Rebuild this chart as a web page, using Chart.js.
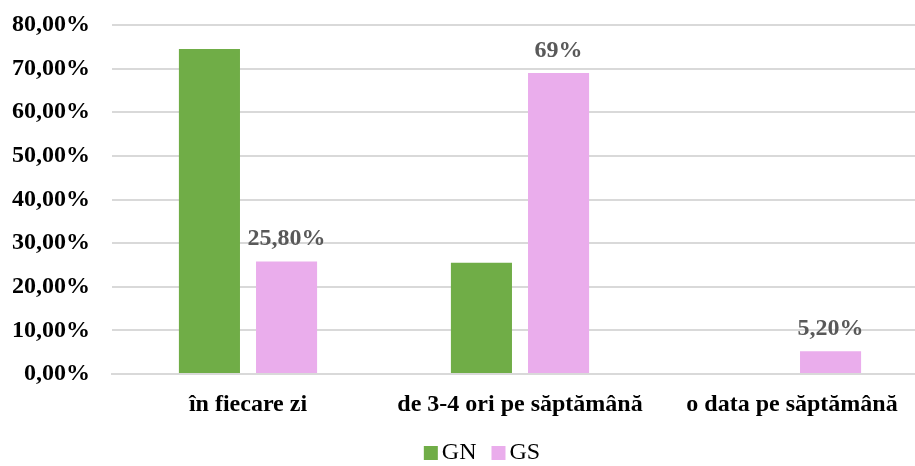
<!DOCTYPE html>
<html>
<head>
<meta charset="utf-8">
<script src="https://cdn.jsdelivr.net/npm/chart.js@4/dist/chart.umd.min.js"></script>
<style>
  html, body { margin: 0; padding: 0; background: #fff; overflow: hidden; }
  #wrap { width: 928px; height: 466px; }
</style>
</head>
<body>
<div id="wrap"><canvas id="c" width="928" height="466"></canvas></div>
<script>
// Frequency categories and the share of each group (percent)
const categories = ["în fiecare zi", "de 3-4 ori pe săptămână", "o data pe săptămână"];
const gnValues = [74.5, 25.5, 0];
const gsValues = [25.8, 69, 5.2];
const gsValueLabels = ["25,80%", "69%", "5,20%"];
const yTicks = [0, 10, 20, 30, 40, 50, 60, 70, 80];
const seriesColors = ['#70AD47', '#EAADEC'];

const SERIF = "'Liberation Serif', 'Times New Roman', serif";
const LEGEND_SWATCH = 14;

// Value labels above the GS bars
const gsLabelPlugin = {
  id: 'gsLabels',
  afterDatasetsDraw(chart) {
    const ctx = chart.ctx;
    const meta = chart.getDatasetMeta(1);
    ctx.save();
    ctx.font = "bold 24px " + SERIF;
    ctx.fillStyle = '#595959';
    ctx.textAlign = 'center';
    ctx.textBaseline = 'alphabetic';
    meta.data.forEach((bar, i) => {
      ctx.fillText(gsValueLabels[i], bar.x, bar.y - 16);
    });
    ctx.restore();
  }
};

// Move the legend a little right and down
const legendShift = {
  id: 'legendShift',
  afterLayout(chart) {
    const lg = chart.legend;
    lg.left += 18;
    lg.right += 18;
    lg.top += 9;
    lg.bottom += 9;
  }
};

// Square legend swatches placed close to their text
const legendSwatches = {
  id: 'legendSwatches',
  afterDraw(chart) {
    const lg = chart.legend;
    const ctx = chart.ctx;
    ctx.save();
    lg.legendItems.forEach((item, i) => {
      const hb = lg.legendHitBoxes[i];
      ctx.fillStyle = seriesColors[item.datasetIndex];
      ctx.fillRect(hb.left, hb.top + hb.height / 2 - LEGEND_SWATCH / 2, LEGEND_SWATCH, LEGEND_SWATCH);
    });
    ctx.restore();
  }
};

new Chart(document.getElementById('c'), {
  type: 'bar',
  data: {
    labels: categories,
    datasets: [
      { label: 'GN', data: gnValues, backgroundColor: seriesColors[0], borderWidth: 0 },
      { label: 'GS', data: gsValues, backgroundColor: seriesColors[1], borderWidth: 0 }
    ]
  },
  options: {
    responsive: false,
    animation: false,
    datasets: { bar: { categoryPercentage: 0.567, barPercentage: 0.792 } },
    layout: { padding: { top: 25, right: 0, left: 0, bottom: 0 } },
    plugins: {
      tooltip: { enabled: false },
      legend: {
        position: 'bottom',
        labels: {
          font: { family: SERIF, size: 24 },
          color: '#000',
          boxWidth: 6,
          boxHeight: 14,
          padding: 15,
          generateLabels(chart) {
            return chart.data.datasets.map((ds, i) => ({
              text: ds.label,
              datasetIndex: i,
              fillStyle: 'rgba(0,0,0,0)',
              strokeStyle: 'rgba(0,0,0,0)',
              lineWidth: 0,
              fontColor: '#000',
              hidden: false
            }));
          }
        }
      }
    },
    scales: {
      x: {
        grid: { display: false },
        border: { display: true, color: '#d9d9d9', width: 2 },
        ticks: {
          color: '#000',
          font: { family: SERIF, size: 24, weight: 'bold' },
          padding: 8,
          maxRotation: 0,
          autoSkip: false
        },
        afterFit(scale) { scale.height = 43; }
      },
      y: {
        min: 0,
        max: 80,
        afterBuildTicks(scale) { scale.ticks = yTicks.map(v => ({ value: v })); },
        grid: { color: '#d9d9d9', lineWidth: 2, drawTicks: false },
        border: { display: false },
        ticks: {
          color: '#000',
          font: { family: SERIF, size: 24, weight: 'bold' },
          padding: 22,
          callback: v => v.toFixed(2).replace('.', ',') + '%'
        },
        afterFit(scale) {
          scale.width = 112;
          scale.paddingTop = 0;
          scale.paddingBottom = 0;
        }
      }
    }
  },
  plugins: [gsLabelPlugin, legendShift, legendSwatches]
});
</script>
</body>
</html>
